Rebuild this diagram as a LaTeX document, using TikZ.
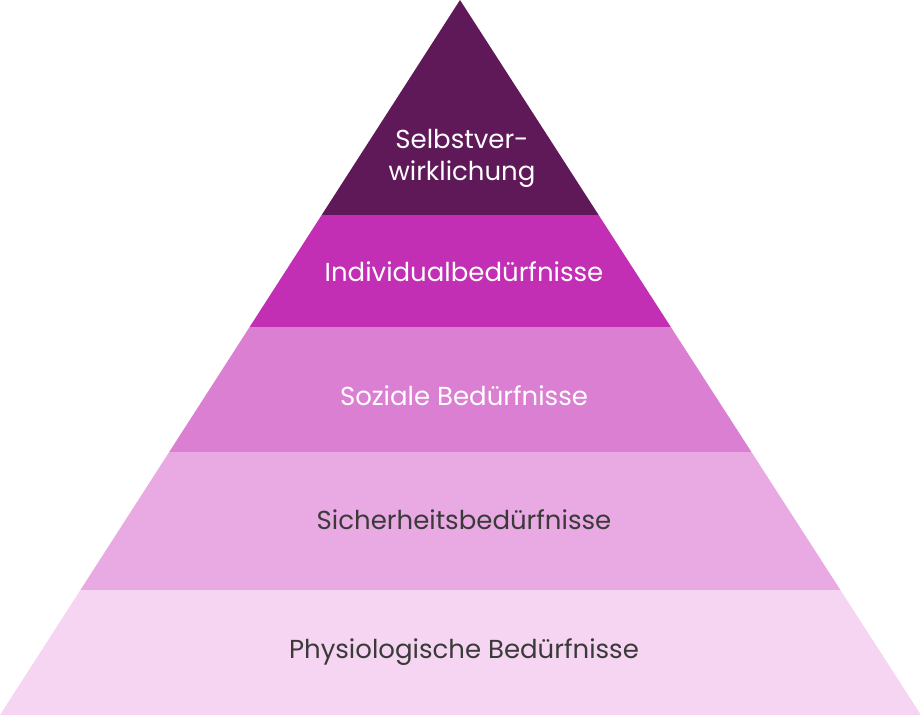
\documentclass[tikz,border=0pt]{standalone}
\usepackage{fontspec}
\setmainfont{Poppins}
\usetikzlibrary{positioning}
\definecolor{tierA}{HTML}{5F1858}
\definecolor{tierB}{HTML}{C22FB4}
\definecolor{tierC}{HTML}{DB7FD2}
\definecolor{tierD}{HTML}{E9A9E2}
\definecolor{tierE}{HTML}{F5D5F1}
\definecolor{darktext}{HTML}{3A3A3A}
\begin{document}
\begin{tikzpicture}[x=0.5pt,y=-0.5pt,
    lighttext/.style={text=white,font=\fontsize{13}{16}\selectfont,align=center},
    darklabel/.style={text=darktext,font=\fontsize{13}{16}\selectfont,align=center}]
  \useasboundingbox (0,0) rectangle (921,715);
  % pyramid tiers
  \begin{scope}
    \clip (460,0) -- (921,715) -- (0,715) -- cycle;
    \fill[tierA] (0,0) rectangle (921,215);
    \fill[tierB] (0,215) rectangle (921,327);
    \fill[tierC] (0,327) rectangle (921,452);
    \fill[tierD] (0,452) rectangle (921,590);
    \fill[tierE] (0,590) rectangle (921,715);
  \end{scope}
  % labels
  \node[lighttext] (selbst) at (462,158) {Selbstver-\\wirklichung};
  \node[lighttext] (indiv) at (464,272) {Individualbedürfnisse};
  \node[lighttext] (sozial) at (464,396) {Soziale Bedürfnisse};
  \node[darklabel] (sicher) at (464,520) {Sicherheitsbedürfnisse};
  \node[darklabel] (physio) at (464,652) {Physiologische Bedürfnisse};
\end{tikzpicture}
\end{document}
